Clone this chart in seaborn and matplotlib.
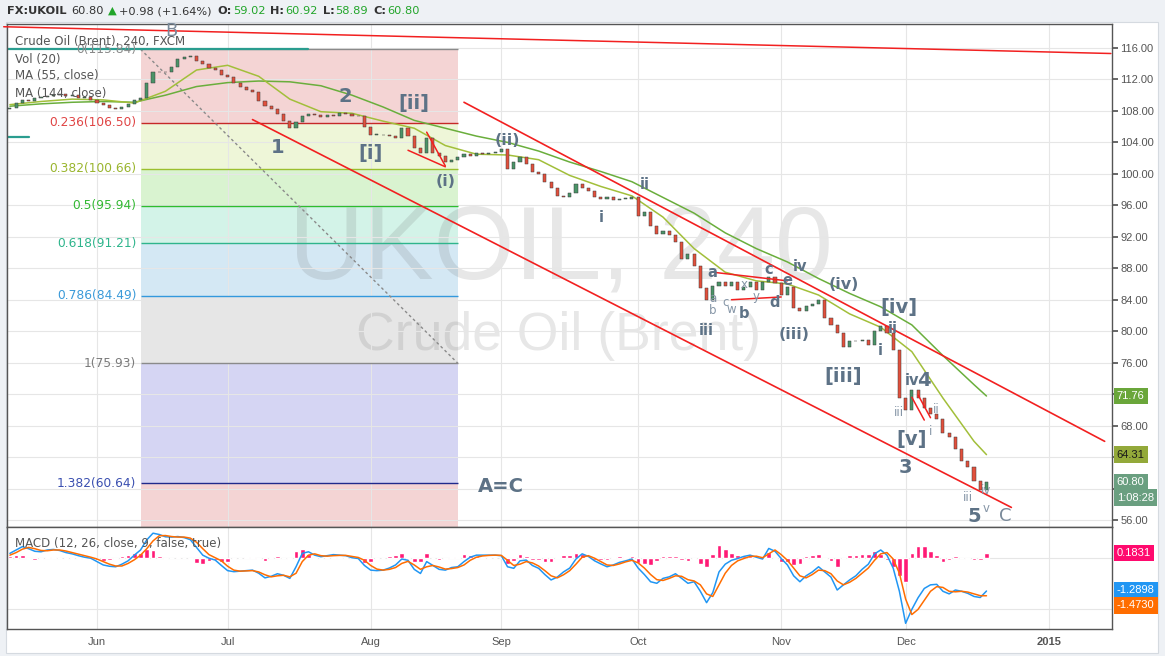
import numpy as np
import pandas as pd
import seaborn as sns
import matplotlib.pyplot as plt
from matplotlib.patches import Rectangle
from matplotlib.transforms import IdentityTransform

sns.set_theme(style="white")
plt.rcParams['font.family'] = ['DejaVu Sans']

W, H = 1165, 656
START = "2014-05-13"

# дневные закрытия (по одному на рабочий день начиная с START)
closes = [108.4, 109.0, 109.4, 109.3, 109.6, 109.8, 109.9, 110.0, 110.1, 109.9, 110.0, 109.7, 109.8, 109.4,
          109.0, 108.8, 108.4, 108.2, 108.5, 108.9, 109.4, 109.7, 111.5, 112.9, 113.0, 112.9, 113.6, 114.6,
          114.9, 115.0, 114.4, 114.0, 113.4, 113.2, 112.6,
          112.3, 111.5, 111.0, 110.7, 110.4, 109.2, 108.6, 108.3, 107.6, 106.7, 105.8, 106.6, 107.3, 107.6,
          107.5, 107.2, 107.5, 107.3, 107.7, 107.6, 107.4, 107.3, 106.0,
          105.0, 105.0, 104.9, 104.8, 104.6, 105.8, 104.8, 103.3, 102.7, 104.5, 102.6, 102.3, 101.5, 101.7,
          102.2, 102.5, 102.3, 102.6, 102.5, 102.7, 102.8,
          103.1, 100.6, 101.5, 102.2, 101.2, 100.3, 100.0, 99.0, 98.2, 97.2, 97.0, 97.6, 98.7, 98.2, 97.8,
          97.0, 96.8, 97.0, 96.7, 96.8, 96.8, 97.1,
          94.6, 95.1, 93.4, 92.3, 92.7, 92.2, 91.3, 89.2, 89.8, 88.3, 85.5, 84.0, 85.8, 86.2, 85.8, 86.2,
          85.3, 85.6, 86.2, 85.3, 86.3, 86.9, 86.1,
          84.6, 85.6, 83.0, 82.6, 83.2, 83.4, 84.0, 81.7, 80.8, 79.8, 78.0, 78.8, 78.7, 78.9, 78.3, 80.0,
          80.6, 79.8, 77.6, 71.5,
          70.0, 72.5, 71.5, 70.3, 69.5, 68.8, 67.0, 66.6, 65.0, 63.5, 62.8, 61.0, 59.8, 60.80]
first_open = 108.2

# скользящие средние (понедельно)
ma_dates = ["2014-05-13", "2014-05-20", "2014-05-27", "2014-06-03", "2014-06-10", "2014-06-17",
            "2014-06-24", "2014-07-01", "2014-07-08", "2014-07-15", "2014-07-22", "2014-07-29",
            "2014-08-05", "2014-08-12", "2014-08-19", "2014-08-26", "2014-09-02", "2014-09-09",
            "2014-09-16", "2014-09-23", "2014-09-30", "2014-10-07", "2014-10-14", "2014-10-21",
            "2014-10-28", "2014-11-04", "2014-11-11", "2014-11-18", "2014-11-25", "2014-12-02",
            "2014-12-09", "2014-12-16", "2014-12-18"]
ma55 = [108.8, 109.2, 109.5, 109.4, 109.0, 110.5, 113.2, 113.8, 112.4, 109.5, 107.9, 107.7,
        106.7, 105.8, 103.6, 102.5, 102.4, 101.8, 99.8, 98.4, 97.2, 94.5, 90.5, 87.5,
        86.4, 86.0, 84.6, 82.2, 80.5, 77.4, 71.5, 66.0, 64.31]
ma144 = [108.6, 108.9, 109.1, 109.2, 109.1, 110.0, 111.1, 111.6, 111.8, 111.7, 111.2, 110.0,
         108.5, 106.8, 105.8, 104.8, 104.0, 102.9, 101.5, 100.3, 99.0, 97.0, 95.0, 92.5,
         90.5, 88.8, 86.7, 84.8, 83.1, 80.8, 76.9, 73.2, 71.76]

# MACD (12, 26, close, 9)
macd = [0.17, 0.30, 0.43, 0.35, 0.25, 0.23, 0.30, 0.32, 0.28, 0.20, 0.15, 0.08, 0.02, -0.02,
        -0.15, -0.28, -0.33, -0.35, -0.25, -0.12, 0.10, 0.30, 0.69, 0.95, 0.90, 0.81, 0.80, 0.82,
        0.78, 0.70, 0.40, 0.10, -0.02, -0.09, -0.30,
        -0.50, -0.54, -0.52, -0.50, -0.48, -0.60, -0.78, -0.72, -0.62, -0.68, -0.80, -0.35, 0.17,
        0.23, 0.10, 0.04, 0.08, 0.12, 0.10, 0.08, 0.00, -0.03, -0.30,
        -0.48, -0.50, -0.48, -0.40, -0.28, -0.05, -0.10, -0.45, -0.61, -0.15, -0.30, -0.45, -0.48,
        -0.38, -0.35, -0.15, 0.02, 0.10, 0.10, 0.10, 0.10,
        0.08, -0.35, -0.41, -0.12, -0.09, -0.30, -0.41, -0.65, -0.86, -0.75, -0.55, -0.40, -0.05,
        0.15, 0.05, -0.12, -0.24, -0.35, -0.28, -0.18, -0.12, -0.05,
        -0.40, -0.65, -0.93, -0.99, -0.80, -0.74, -0.62, -0.80, -0.99, -0.93, -1.30, -1.74, -1.35,
        -0.55, -0.25, -0.10, -0.03, 0.05, 0.10, 0.02, -0.05, 0.36, 0.25,
        -0.03, -0.28, -0.70, -0.93, -0.70, -0.55, -0.35, -0.55, -0.75, -1.25, -1.05, -0.86, -0.70,
        -0.45, -0.25, 0.15, 0.30, 0.10, -0.40, -1.30,
        -2.54, -2.00, -1.55, -1.19, -1.05, -1.03, -1.30, -1.40, -1.25, -1.30, -1.38, -1.50, -1.54, -1.28983]
signal = [0.10, 0.20, 0.33, 0.40, 0.35, 0.28, 0.27, 0.30, 0.30, 0.26, 0.20, 0.14, 0.08, 0.02,
          -0.05, -0.15, -0.25, -0.32, -0.32, -0.22, -0.08, 0.10, 0.35, 0.65, 0.85, 0.86, 0.82, 0.80,
          0.80, 0.76, 0.60, 0.35, 0.12, 0.00, -0.12,
          -0.33, -0.48, -0.52, -0.51, -0.50, -0.55, -0.66, -0.74, -0.70, -0.68, -0.74, -0.60, -0.15,
          0.10, 0.15, 0.08, 0.06, 0.08, 0.09, 0.09, 0.05, 0.01, -0.10,
          -0.30, -0.44, -0.48, -0.45, -0.38, -0.22, -0.14, -0.28, -0.45, -0.35, -0.30, -0.36, -0.44,
          -0.42, -0.38, -0.28, -0.10, 0.02, 0.07, 0.09, 0.10,
          0.09, -0.10, -0.30, -0.25, -0.15, -0.20, -0.32, -0.50, -0.70, -0.78, -0.66, -0.50, -0.25,
          0.02, 0.08, -0.02, -0.15, -0.28, -0.30, -0.24, -0.16, -0.10,
          -0.20, -0.40, -0.65, -0.85, -0.88, -0.80, -0.70, -0.72, -0.85, -0.90, -1.05, -1.40, -1.50,
          -1.05, -0.60, -0.30, -0.12, -0.03, 0.05, 0.06, 0.00, 0.15, 0.30,
          0.12, -0.10, -0.40, -0.70, -0.78, -0.65, -0.48, -0.50, -0.62, -0.90, -1.05, -0.95, -0.80,
          -0.60, -0.40, -0.10, 0.15, 0.20, -0.05, -0.60,
          -1.60, -2.20, -2.00, -1.65, -1.30, -1.12, -1.15, -1.30, -1.32, -1.30, -1.33, -1.40, -1.47, -1.47296]

# фибоначчи
fib_levels = [0, 0.236, 0.382, 0.5, 0.618, 0.786, 1, 1.382, 1.618]
fib_prices = [115.84, 106.50, 100.66, 95.94, 91.21, 84.49, 75.93, 60.64, 51.26]
fib_dates = ["2014-06-11", "2014-08-21"]

# трендовые линии
resist_dates, resist_prices = ["2014-05-12", "2015-01-15"], [118.7, 115.3]
top_dates, top_prices = ["2014-08-22", "2015-01-14"], [109.1, 66.0]
bottom_dates, bottom_prices = ["2014-07-07", "2014-12-24"], [106.9, 57.6]
small_lines = [(["2014-08-11", "2014-08-19"], [103.0, 100.9]),
               (["2014-08-14", "2014-08-19"], [105.3, 101.0]),
               (["2014-10-17", "2014-11-04"], [87.5, 86.4]),
               (["2014-10-22", "2014-11-03"], [84.0, 84.35]),
               (["2014-12-02", "2014-12-04"], [71.6, 68.7]),
               (["2014-12-03", "2014-12-05"], [71.9, 69.0])]
teal_lines = [(["2014-05-12", "2014-07-18"], [115.9, 115.9]),
              (["2014-05-12", "2014-05-16"], [104.7, 104.7])]

# волновая разметка
major_labels = ["1", "2", "3", "5", "[i]", "[ii]", "[iii]", "[iv]", "[v]", "A=C", "4"]
major_dates = ["2014-07-11", "2014-07-28", "2014-12-01", "2014-12-16", "2014-08-01", "2014-08-12",
               "2014-11-17", "2014-11-28", "2014-12-02", "2014-09-01", "2014-12-04"]
major_prices = [103.3, 109.8, 62.7, 56.5, 102.6, 109.0, 74.3, 83.0, 66.2, 60.2, 73.7]
paren_labels = ["(i)", "(ii)", "(iii)", "(iv)"]
paren_dates = ["2014-08-19", "2014-09-02", "2014-11-05", "2014-11-17"]
paren_prices = [99.0, 104.3, 79.6, 85.9]
minor_labels = ["i", "ii", "iii", "iv", "i", "ii", "iv", "a", "b", "c", "d", "e"]
minor_dates = ["2014-09-23", "2014-10-02", "2014-10-16", "2014-11-06", "2014-11-25", "2014-11-27",
               "2014-12-02", "2014-10-17", "2014-10-24", "2014-10-30", "2014-10-31", "2014-11-04"]
minor_prices = [94.5, 98.7, 80.15, 88.2, 77.6, 80.4, 73.7, 87.5, 82.3, 87.8, 83.6, 86.5]
faint_labels = ["a", "b", "c", "w", "x", "y", "iii", "ii", "i", "iii", "iv", "v"]
faint_dates = ["2014-10-17", "2014-10-17", "2014-10-21", "2014-10-22", "2014-10-24", "2014-10-28",
               "2014-11-28", "2014-12-08", "2014-12-05", "2014-12-15", "2014-12-18", "2014-12-18"]
faint_prices = [84.2, 82.6, 83.6, 82.8, 85.9, 84.35, 69.7, 70.0, 67.2, 58.8, 59.8, 57.5]
corner_labels = ["B", "C"]
corner_dates = ["2014-06-18", "2014-12-23"]
corner_prices = [118.2, 56.5]

month_dates = ["2014-06-02", "2014-07-01", "2014-08-01", "2014-09-01", "2014-10-01",
               "2014-11-03", "2014-12-01", "2015-01-01"]
month_names = ["Jun", "Jul", "Aug", "Sep", "Oct", "Nov", "Dec", "2015"]


def bx(d):
    # индекс рабочего дня
    return np.busday_count(np.datetime64(START), np.array(d, dtype="datetime64[D]"))


SLATE = "#5d7286"
LIGHT = "#8595a6"
GRID = "#e6e6e6"
FRAME = "#555555"

fig = plt.figure(figsize=(W / 100, H / 100), dpi=100, facecolor="#eef1f5")
fig.add_artist(Rectangle((6 / W, 3 / H), 1152 / W, 631 / H, transform=fig.transFigure,
                         facecolor="white", edgecolor="#d5dae0", lw=0.8, zorder=-10))
ax = fig.add_axes([7 / W, (H - 527) / H, 1105 / W, 503 / H])
ax2 = fig.add_axes([7 / W, (H - 629) / H, 1105 / W, 102 / H], sharex=ax)

x = np.arange(len(closes))
c = np.array(closes)
o = np.array([first_open] + closes[:-1])
xlim = (-0.47, 177.18)

# сетка и рамки
for a in (ax, ax2):
    a.set_facecolor("white")
    a.set_axisbelow("line")
    a.grid(True, color=GRID, lw=0.8)
    for s in a.spines.values():
        s.set_color(FRAME)
        s.set_linewidth(1)
    a.set_xticks(bx(month_dates))
ax.set_xlim(*xlim)
ax.set_ylim(55.11, 119.05)
ax2.set_ylim(-2.76, 1.19)

ax.yaxis.tick_right()
ax.set_yticks(np.arange(56, 117, 4))
ax.set_yticklabels([f"{v:.2f}" for v in np.arange(56, 117, 4)], family="Liberation Sans")
ax.tick_params(axis="y", right=True, length=4, color=FRAME, labelsize=8, labelcolor="#555", pad=2)
ax.tick_params(axis="x", length=0, labelbottom=False)
ax2.set_yticks([-2, 0])
ax2.tick_params(axis="y", length=0, labelleft=False, labelright=False)
ax2.tick_params(axis="x", length=0, labelsize=8, labelcolor="#555", pad=6)
ax2.set_xticklabels(month_names, family="Liberation Sans")
ax2.get_xticklabels()[-1].set_fontweight("bold")

# фибоначчи
f0, f1 = bx(fib_dates)
fill_colors = ["#f4d4d4", "#eef6d8", "#d9f3d0", "#d3f3e8", "#d4e8f4", "#e6e6e6", "#d5d5f3", "#f4d4d4"]
line_colors = ["#8a8a8a", "#c62828", "#9bbf2e", "#2ebd2e", "#2fb58c", "#3399dd", "#8a8a8a", "#1f2a8c"]
label_colors = ["#8a8a8a", "#e04545", "#9ab52e", "#33b833", "#2fb58c", "#3a9ad9", "#7a7a7a", "#3a4fb0"]
for i in range(len(fib_levels) - 1):
    ax.fill_between([f0, f1], fib_prices[i], fib_prices[i + 1], color=fill_colors[i], lw=0, zorder=0.3)
    ax.hlines(fib_prices[i], f0, f1, color=line_colors[i], lw=1, zorder=2)
    ax.annotate(f"{fib_levels[i]:g}({fib_prices[i]:.2f})", xy=(f0, fib_prices[i]), xytext=(-3, 0),
                textcoords="offset points", ha="right", va="center", fontsize=8.8,
                color=label_colors[i], zorder=6)
ax.plot([f0, f1], [fib_prices[0], fib_prices[6]], color="#8a8a8a", lw=1, ls=(0, (2, 2)), zorder=2)

# водяной знак
ax.text(0.5009, 0.495, "UKOIL, 240", transform=ax.transAxes, fontsize=75, family="Liberation Sans",
        color="#555555", alpha=0.14, ha="center", va="baseline", zorder=1)
ax.text(0.4995, 0.352, "Crude Oil (Brent)", transform=ax.transAxes, fontsize=38.5,
        family="Liberation Sans", color="#555555", alpha=0.14, ha="center", va="baseline", zorder=1)

# скользящие средние
mx = bx(ma_dates)
sns.lineplot(x=mx, y=ma144, ax=ax, color="#6aae3c", lw=1.1, legend=False, zorder=3)
sns.lineplot(x=mx, y=ma55, ax=ax, color="#a2bf3a", lw=1.1, legend=False, zorder=3)

# свечи
up = c >= o
body = np.where(np.abs(c - o) < 0.08, 0.08, c - o)
ax.bar(x, body, bottom=o, width=0.5, color=np.where(up, "#4a9468", "#e2503c"),
       edgecolor="#3a3a3a", linewidth=0.35, zorder=4)

# линии
for d, p, col, lw in [(resist_dates, resist_prices, "#f22020", 1.1),
                      (top_dates, top_prices, "#f22020", 1.2),
                      (bottom_dates, bottom_prices, "#f22020", 1.2)]:
    ax.plot(bx(d), p, color=col, lw=lw, zorder=5, clip_on=False)
for d, p in small_lines:
    ax.plot(bx(d), p, color="#f22020", lw=1.1, zorder=5)
for d, p in teal_lines:
    ax.plot(bx(d), p, color="#2a9d8f", lw=1.6, zorder=2.5)

# разметка волн
tiers = [(major_labels, major_dates, major_prices, dict(fontsize=14, fontweight="bold", color=SLATE)),
         (paren_labels, paren_dates, paren_prices, dict(fontsize=11.5, fontweight="bold", color=SLATE)),
         (minor_labels, minor_dates, minor_prices, dict(fontsize=10.5, fontweight="bold", color=SLATE)),
         (faint_labels, faint_dates, faint_prices, dict(fontsize=8.5, color=LIGHT)),
         (corner_labels, corner_dates, corner_prices, dict(fontsize=13, color="#7a8a9a"))]
for labels, dates, prices, kw in tiers:
    for s, d, p in zip(labels, bx(dates), prices):
        ax.text(d, p, s, ha="center", va="center", zorder=6, clip_on=False, **kw)

# подписи слева сверху
for i, s in enumerate(["Crude Oil (Brent), 240, FXCM", "Vol (20)", "MA (55, close)", "MA (144, close)"]):
    fig.text(15, H - 42 - i * 17, s, transform=IdentityTransform(), fontsize=8.5, color="#555",
             ha="left", va="center", zorder=10)

# MACD
hist = np.array(macd) - np.array(signal)
ax2.bar(x, hist, width=0.75, color="#ff1a75", zorder=2)
sns.lineplot(x=x, y=macd, ax=ax2, color="#2196f3", lw=1.1, legend=False, zorder=3)
sns.lineplot(x=x, y=signal, ax=ax2, color="#ff6d00", lw=1.1, legend=False, zorder=3)
ax2.text(8 / 1105, 0.84, "MACD (12, 26, close, 9, false, true)", transform=ax2.transAxes,
         fontsize=8.5, color="#555", ha="left", va="center")


def tag(a, v, text, fc, tc="white", dy=0):
    a.annotate(text, xy=(1, v), xycoords=a.get_yaxis_transform(), xytext=(3.5, dy),
               textcoords="offset points", ha="left", va="center", fontsize=8, color=tc,
               family="Liberation Sans", annotation_clip=False, zorder=8,
               bbox=dict(boxstyle="square,pad=0.3", fc=fc, ec="none"))


tag(ax, ma144[-1], f"{ma144[-1]:.2f}", "#6aa63a")
tag(ax, ma55[-1], f"{ma55[-1]:.2f}", "#93a93a", tc="#1a1a1a")
tag(ax, closes[-1], f"{closes[-1]:.2f}", "#6a9f80")
tag(ax, closes[-1], "1:08:28", "#6a9f80", dy=-11)
tag(ax2, hist[-1], f"{hist[-1]:.4f}", "#ff0a6e")
tag(ax2, macd[-1], f"{macd[-1]:.4f}", "#2196f3", dy=0.5)
tag(ax2, signal[-1], f"{signal[-1]:.4f}", "#ff6d00", dy=-7)

# заголовок
renderer = fig.canvas.get_renderer()
dark, green = "#333333", "#22a52a"
parts = [("FX:UKOIL", dark, "bold", 5), ("60.80", dark, "normal", 4), ("\u25b2", green, "normal", 2),
         ("+0.98 (+1.64%)", dark, "normal", 6),
         ("O:", dark, "bold", 1), ("59.02", green, "normal", 5),
         ("H:", dark, "bold", 1), ("60.92", green, "normal", 5),
         ("L:", dark, "bold", 1), ("58.89", green, "normal", 5),
         ("C:", dark, "bold", 1), ("60.80", green, "normal", 5)]
hx = 7
for s, col, wt, gap in parts:
    t = fig.text(hx, H - 11, s, transform=IdentityTransform(), fontsize=8.2, color=col,
                 fontweight=wt, ha="left", va="center")
    hx = t.get_window_extent(renderer).x1 + gap

fig.savefig("out.png", dpi=100, facecolor=fig.get_facecolor())
